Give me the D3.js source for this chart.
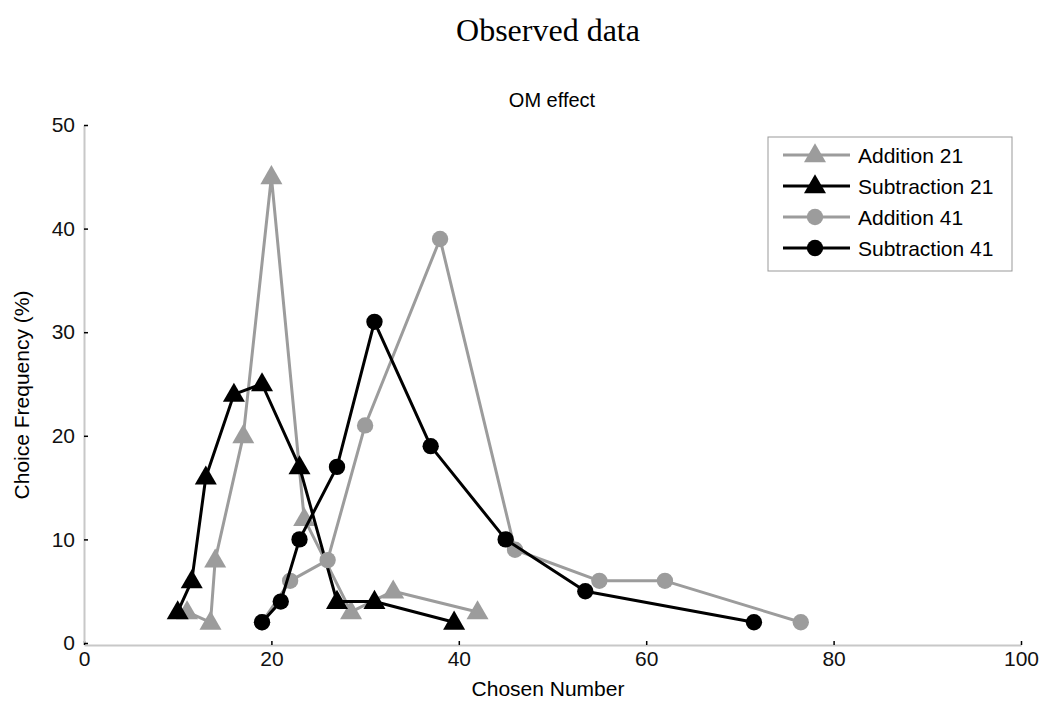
<!DOCTYPE html>
<html>
<head>
<meta charset="utf-8">
<script src="https://cdn.jsdelivr.net/npm/d3@7"></script>
<style>
  body { margin: 0; background: #fff; }
  svg { display: block; font-family: "Liberation Sans", Arial, sans-serif; }
  .axis .domain { stroke: #c8c8c8; stroke-width: 2; }
  .axis line { stroke: #000; stroke-width: 1.5; }
  .axis text { font-size: 21px; fill: #111; }
</style>
</head>
<body>
<svg width="1043" height="703"></svg>
<script>
// series values: [chosen number, choice frequency %]
const addition21 = [[11, 3], [13.5, 2], [14, 8], [17, 20], [20, 45], [23.5, 12], [28.5, 3], [33, 5], [42, 3]];
const subtraction21 = [[10, 3], [11.5, 6], [13, 16], [16, 24], [19, 25], [23, 17], [27, 4], [31, 4], [39.5, 2]];
const addition41 = [[19, 2], [22, 6], [26, 8], [30, 21], [38, 39], [46, 9], [55, 6], [62, 6], [76.5, 2]];
const subtraction41 = [[19, 2], [21, 4], [23, 10], [27, 17], [31, 31], [37, 19], [45, 10], [53.5, 5], [71.5, 2]];

const seriesNames = ["Addition 21", "Subtraction 21", "Addition 41", "Subtraction 41"];
const xTicks = [0, 20, 40, 60, 80, 100];
const yTicks = [0, 10, 20, 30, 40, 50];

const svg = d3.select("svg");

const margin = {top: 125, right: 22, bottom: 60, left: 84},
      width = 1043 - margin.left - margin.right,
      height = 643 - margin.top;

const g = svg.append("g")
    .attr("transform", `translate(${margin.left},${margin.top})`);

const x = d3.scaleLinear().domain([0, 100]).range([0, width]);
const y = d3.scaleLinear().domain([0, 50]).range([height, 0]);

const gray = "#9c9c9c";
const series = [
    {name: seriesNames[0], data: addition21, color: gray, shape: "triangle"},
    {name: seriesNames[1], data: subtraction21, color: "#000", shape: "triangle"},
    {name: seriesNames[2], data: addition41, color: gray, shape: "circle"},
    {name: seriesNames[3], data: subtraction41, color: "#000", shape: "circle"}
];

// titles
svg.append("text")
    .attr("x", 548).attr("y", 41)
    .attr("text-anchor", "middle")
    .style("font-family", "'Liberation Serif', 'Times New Roman', serif")
    .style("font-size", "32px")
    .text("Observed data");

svg.append("text")
    .attr("x", 552).attr("y", 107)
    .attr("text-anchor", "middle")
    .style("font-size", "20px")
    .text("OM effect");

// axes
g.append("g")
    .attr("class", "axis")
    .attr("transform", `translate(0,${height + 2})`)
    .call(d3.axisBottom(x).tickValues(xTicks).tickSize(-4).tickSizeOuter(0).tickPadding(6));

g.append("g")
    .attr("class", "axis")
    .call(d3.axisLeft(y).tickValues(yTicks).tickSize(-4).tickSizeOuter(0).tickPadding(9));

svg.append("text")
    .attr("x", 548).attr("y", 696)
    .attr("text-anchor", "middle")
    .style("font-size", "21px")
    .text("Chosen Number");

svg.append("text")
    .attr("transform", "translate(29,395) rotate(-90)")
    .attr("text-anchor", "middle")
    .style("font-size", "21px")
    .text("Choice Frequency (%)");

// lines and markers
const line = d3.line().x(d => x(d[0])).y(d => y(d[1]));
const tri = d3.symbol().type(d3.symbolTriangle).size(210);
const circ = d3.symbol().type(d3.symbolCircle).size(210);

series.forEach(s => {
    g.append("path")
        .datum(s.data)
        .attr("fill", "none")
        .attr("stroke", s.color)
        .attr("stroke-width", 3)
        .attr("stroke-linejoin", "round")
        .attr("d", line);

    g.selectAll(null)
        .data(s.data)
        .enter().append("path")
        .attr("transform", d => `translate(${x(d[0])},${y(d[1]) + (s.shape === "triangle" ? 1 : 0)})`)
        .attr("d", s.shape === "triangle" ? tri : circ)
        .attr("fill", s.color);
});

// legend
const legend = svg.append("g").attr("transform", "translate(768,137)");
legend.append("rect")
    .attr("width", 244).attr("height", 134)
    .attr("fill", "#fff")
    .attr("stroke", "#999").attr("stroke-width", 1);

series.forEach((s, i) => {
    const ly = 18 + i * 31;
    legend.append("line")
        .attr("x1", 15).attr("x2", 82)
        .attr("y1", ly).attr("y2", ly)
        .attr("stroke", s.color).attr("stroke-width", 3);
    legend.append("path")
        .attr("transform", `translate(47,${ly + (s.shape === "triangle" ? 1 : 0)})`)
        .attr("d", s.shape === "triangle" ? tri : circ)
        .attr("fill", s.color);
    legend.append("text")
        .attr("x", 90).attr("y", ly + 8)
        .style("font-size", "21px")
        .text(s.name);
});
</script>
</body>
</html>
